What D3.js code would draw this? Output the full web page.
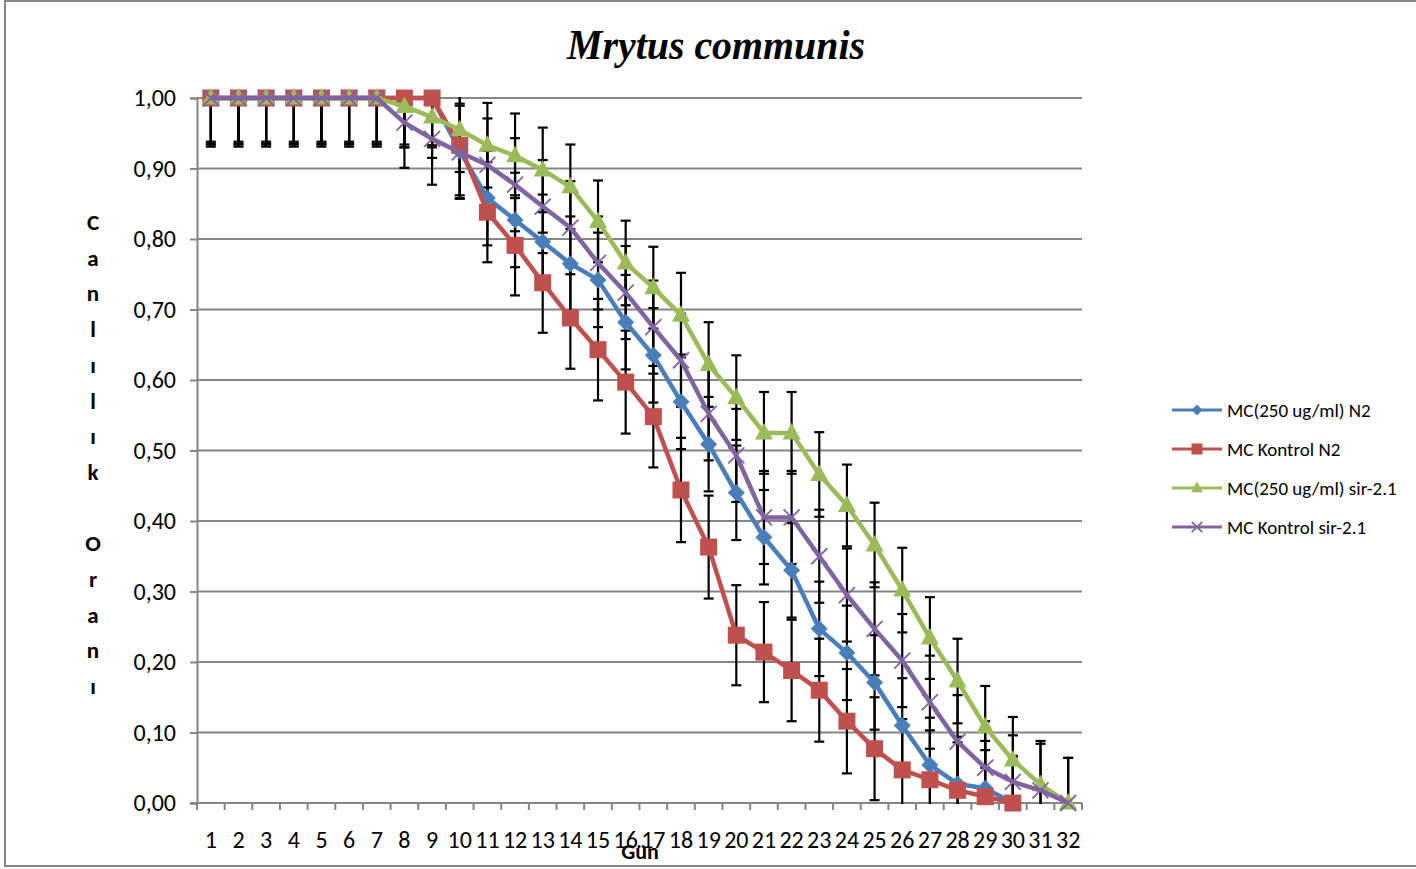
<!DOCTYPE html>
<html>
<head>
<meta charset="utf-8">
<script src="https://cdn.jsdelivr.net/npm/d3@7"></script>
<style>
  body { margin: 0; background: #fff; }
  svg { display: block; }
</style>
</head>
<body>
<svg id="chart"></svg>
<script>
// data
const days = ['1','2','3','4','5','6','7','8','9','10','11','12','13','14','15','16',
              '17','18','19','20','21','22','23','24','25','26','27','28','29','30','31','32'];

const mcN2 = [1,1,1,1,1,1,1,1,1,0.925,0.858,0.827,0.796,0.765,0.742,0.682,
              0.635,0.569,0.509,0.44,0.377,0.33,0.247,0.213,0.171,0.11,0.054,0.027,0.021,0,null,null];
const kontrolN2 = [1,1,1,1,1,1,1,1,1,0.933,0.838,0.791,0.738,0.688,0.643,0.597,
                   0.548,0.444,0.363,0.238,0.214,0.188,0.16,0.116,0.077,0.047,0.033,0.018,0.009,0,null,null];
const mcSir = [1,1,1,1,1,1,1,0.988,0.973,0.955,0.933,0.918,0.898,0.874,0.825,0.766,
               0.731,0.692,0.622,0.575,0.525,0.525,0.466,0.422,0.366,0.302,0.234,0.173,0.108,0.061,0.026,0];
const kontrolSir = [1,1,1,1,1,1,1,0.965,0.942,0.923,0.905,0.877,0.846,0.816,0.766,0.724,
                    0.675,0.628,0.552,0.493,0.405,0.405,0.35,0.295,0.247,0.202,0.143,0.087,0.05,0.03,0.018,0];

// standard errors (whisker half-lengths)
const errN2 = [0.066,0.066,0.066,0.066,0.066,0.066,0.066,0.066,0.067,0.067,0.067,0.067,0.067,0.067,0.067,0.067,
               0.067,0.067,0.067,0.067,0.067,0.067,0.067,0.067,0.067,0.067,0.067,0.067,0.067,0.067,null,null];
const errKontrolN2 = [0.069,0.069,0.069,0.069,0.069,0.069,0.069,0.07,0.07,0.071,0.071,0.071,0.071,0.072,0.072,0.073,
                      0.072,0.074,0.073,0.071,0.071,0.072,0.073,0.074,0.073,0.072,0.07,0.068,0.066,0.065,null,null];
const errSir = [0.062,0.062,0.062,0.062,0.062,0.062,0.062,0.058,0.058,0.06,0.06,0.06,0.06,0.06,0.058,0.06,
                0.058,0.06,0.06,0.06,0.058,0.058,0.06,0.058,0.06,0.06,0.058,0.06,0.058,0.061,0.062,0.064];
const errKontrolSir = [0.065,0.065,0.065,0.065,0.065,0.065,0.065,0.064,0.065,0.066,0.066,0.066,0.066,0.066,0.066,0.066,
                       0.066,0.066,0.066,0.066,0.066,0.066,0.066,0.066,0.066,0.066,0.066,0.066,0.066,0.066,0.066,0.064];

const yTicks = [0,0.1,0.2,0.3,0.4,0.5,0.6,0.7,0.8,0.9,1];

const seriesNames = ['MC(250 ug/ml) N2','MC Kontrol N2','MC(250 ug/ml) sir-2.1','MC Kontrol sir-2.1'];
const seriesColors = ['#4a7ebb','#c0504d','#9bbb59','#8064a2'];
const seriesShapes = ['diamond','square','triangle','cross'];

const series = [
  {name: seriesNames[0], values: mcN2, err: errN2},
  {name: seriesNames[1], values: kontrolN2, err: errKontrolN2},
  {name: seriesNames[2], values: mcSir, err: errSir},
  {name: seriesNames[3], values: kontrolSir, err: errKontrolSir}
].map((s,i) => ({...s, color: seriesColors[i], shape: seriesShapes[i]}));

const W = 1416, H = 869;
const plotLeft = 197, plotRight = 1082, plotTop = 98, plotBottom = 803;
const gridColor = '#868686';
const font = 'Carlito, Calibri, Lato, sans-serif';

const svg = d3.select('#chart').attr('width', W).attr('height', H);

// outer frame
svg.append('rect')
  .attr('x', 5).attr('y', 1).attr('width', W).attr('height', 865)
  .attr('fill', '#fff').attr('stroke', gridColor).attr('stroke-width', 2);

const x = d3.scaleBand().domain(days).range([plotLeft, plotRight]).padding(0);
const y = d3.scaleLinear().domain([0, 1]).range([plotBottom, plotTop]);
const cx = d => x(d) + x.bandwidth() / 2;

// gridlines
svg.append('g').selectAll('line')
  .data(yTicks.filter(t => t > 0))
  .enter().append('line')
  .attr('x1', plotLeft).attr('x2', plotRight)
  .attr('y1', d => y(d)).attr('y2', d => y(d))
  .attr('stroke', gridColor).attr('stroke-width', 2);

// y axis
let yAxis = svg.append('g')
  .attr('transform', `translate(${plotLeft},0)`)
  .call(d3.axisLeft(y).tickValues(yTicks).tickSize(7).tickPadding(14)
        .tickFormat(d => d.toFixed(2).replace('.', ',')));
yAxis.selectAll('line').attr('stroke', gridColor).attr('stroke-width', 2);
yAxis.select('.domain').attr('stroke', gridColor).attr('stroke-width', 2);
yAxis.selectAll('text').attr('font-family', font).attr('font-size', 24).attr('fill', '#000');

// x axis
let xAxis = svg.append('g')
  .attr('transform', `translate(0,${plotBottom})`)
  .call(d3.axisBottom(x).tickSize(0).tickPadding(28));
xAxis.select('.domain').remove();
xAxis.selectAll('text').attr('font-family', font).attr('font-size', 24).attr('fill', '#000');
svg.append('line')
  .attr('x1', plotLeft - 7).attr('x2', plotRight)
  .attr('y1', plotBottom).attr('y2', plotBottom)
  .attr('stroke', gridColor).attr('stroke-width', 2);
svg.append('g').selectAll('line')
  .data(days.concat(['end']))
  .enter().append('line')
  .attr('x1', (d,i) => plotLeft + i * x.step()).attr('x2', (d,i) => plotLeft + i * x.step())
  .attr('y1', plotBottom).attr('y2', plotBottom + 7)
  .attr('stroke', gridColor).attr('stroke-width', 2);

// clip for error bars
svg.append('clipPath').attr('id', 'plotClip')
  .append('rect').attr('x', plotLeft).attr('y', plotTop - 1)
  .attr('width', plotRight - plotLeft).attr('height', plotBottom - plotTop + 2);

const errG = svg.append('g').attr('clip-path', 'url(#plotClip)');
series.forEach(s => {
  const pts = days.map((d,i) => ({d, v: s.values[i], e: s.err[i]})).filter(p => p.v != null && p.e != null);
  const g = errG.append('g').attr('stroke', '#000').attr('stroke-width', 2.2);
  g.selectAll('line.bar').data(pts).enter().append('line')
    .attr('x1', p => cx(p.d)).attr('x2', p => cx(p.d))
    .attr('y1', p => y(p.v + p.e)).attr('y2', p => y(p.v - p.e));
  g.selectAll('line.capTop').data(pts).enter().append('line')
    .attr('x1', p => cx(p.d) - 5).attr('x2', p => cx(p.d) + 5)
    .attr('y1', p => y(p.v + p.e)).attr('y2', p => y(p.v + p.e));
  g.selectAll('line.capBot').data(pts).enter().append('line')
    .attr('x1', p => cx(p.d) - 5).attr('x2', p => cx(p.d) + 5)
    .attr('y1', p => y(p.v - p.e)).attr('y2', p => y(p.v - p.e));
});

function marker(sel, shape, color, k) {
  if (shape === 'diamond') {
    sel.append('path').attr('d', `M0,${-8.5*k}L${8.5*k},0L0,${8.5*k}L${-8.5*k},0Z`).attr('fill', color);
  } else if (shape === 'square') {
    sel.append('rect').attr('x', -8.5*k).attr('y', -8.5*k).attr('width', 17*k).attr('height', 17*k).attr('fill', color);
  } else if (shape === 'triangle') {
    sel.append('path').attr('d', `M0,${-10*k}L${9*k},${6.5*k}L${-9*k},${6.5*k}Z`).attr('fill', color);
  } else {
    sel.append('path').attr('d', `M${-8*k},${-8*k}L${8*k},${8*k}M${8*k},${-8*k}L${-8*k},${8*k}`)
      .attr('stroke', color).attr('stroke-width', 1.8).attr('fill', 'none');
  }
}

const line = d3.line()
  .defined(p => p.v != null)
  .x(p => cx(p.d)).y(p => y(p.v));

series.forEach(s => {
  const pts = days.map((d,i) => ({d, v: s.values[i]}));
  svg.append('path').datum(pts)
    .attr('d', line).attr('fill', 'none')
    .attr('stroke', s.color).attr('stroke-width', 4.5).attr('stroke-linejoin', 'round');
  svg.append('g').selectAll('g').data(pts.filter(p => p.v != null))
    .enter().append('g')
    .attr('transform', p => `translate(${cx(p.d)},${y(p.v)})`)
    .each(function() { marker(d3.select(this), s.shape, s.color, 1); });
});

// title
svg.append('text')
  .attr('x', 716).attr('y', 59).attr('text-anchor', 'middle')
  .attr('font-family', '"Liberation Serif", "Times New Roman", serif')
  .attr('font-style', 'italic').attr('font-weight', 'bold').attr('font-size', 42)
  .attr('textLength', 298).attr('lengthAdjust', 'spacingAndGlyphs')
  .text('Mrytus communis');

// y axis title, stacked letters
const yTitle = 'Canlılık Oranı';
svg.append('g').selectAll('text')
  .data(yTitle.split(''))
  .enter().append('text')
  .attr('x', 93).attr('y', (c,i) => 230 + i * 35.7)
  .attr('text-anchor', 'middle')
  .attr('font-family', font).attr('font-weight', 'bold').attr('font-size', 23)
  .text(c => c);

// x axis title
svg.append('text')
  .attr('x', 640).attr('y', 859).attr('text-anchor', 'middle')
  .attr('font-family', font).attr('font-weight', 'bold').attr('font-size', 22)
  .text('Gün');

// legend
const legend = svg.append('g').attr('transform', 'translate(1172,410)');
series.forEach((s,i) => {
  const row = legend.append('g').attr('transform', `translate(0,${i * 39})`);
  row.append('line').attr('x1', 0).attr('x2', 50).attr('y1', 0).attr('y2', 0)
    .attr('stroke', s.color).attr('stroke-width', 3);
  const m = row.append('g').attr('transform', 'translate(25,0)');
  marker(m, s.shape, s.color, 0.65);
  row.append('text').attr('x', 55).attr('y', 6.5)
    .attr('font-family', font).attr('font-size', 19).attr('fill', '#000')
    .text(s.name);
});
</script>
</body>
</html>
